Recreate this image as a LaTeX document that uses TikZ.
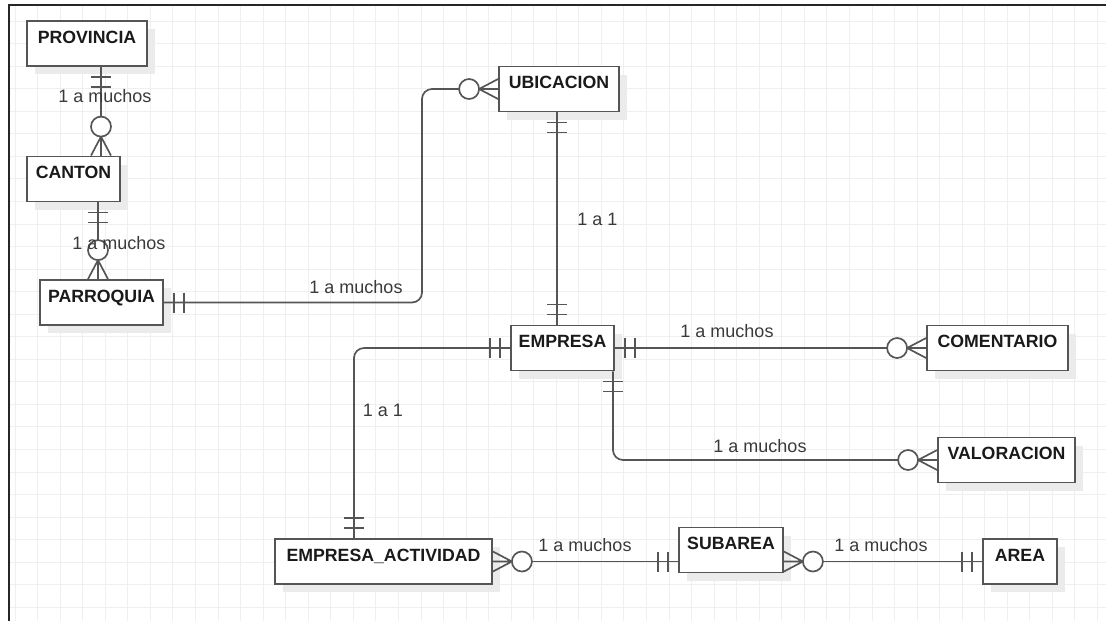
\documentclass[tikz,border=0pt]{standalone}
\usepackage{fontspec}
\setmainfont{Liberation Sans}
\usetikzlibrary{calc, shadows}

\begin{document}
\begin{tikzpicture}[x=0.025cm, y=-0.025cm, font=\fontsize{12.8}{15}\selectfont]
    % Define colors
    \definecolor{lineColour}{HTML}{555555}
    \definecolor{gridColour}{HTML}{EFEFEF}
    \definecolor{shadowColour}{HTML}{EBEBEB}
    \definecolor{textColour}{HTML}{1A1A1A}
    \definecolor{labelColour}{HTML}{3A3A3A}

    % Define pixel size and grid step
    \def\px{0.025cm}
    \def\gridStep{22.55}

    % Define styles and line ends
    \tikzset{
        entity/.style={draw=lineColour, fill=white, line width=1.3pt, text=textColour,
            font=\fontsize{12.6}{15}\selectfont\bfseries,
            minimum height=45*\px, text height=13*\px, text depth=14*\px, inner sep=0pt,
            drop shadow={shadow xshift=8*\px, shadow yshift=-8*\px, fill=shadowColour, opacity=1}},
        endMark/.style={draw=lineColour, line width=1.2pt},
        link/.style={endMark, rounded corners=10*\px},
        relLabel/.style={text=labelColour, anchor=base, inner sep=0pt},
        mandOne/.pic={\draw[endMark] (10,-10) -- (10,10) (20,-10) -- (20,10);},
        zeroMany/.pic={\draw[endMark] (0,-10) -- (19,0) -- (0,10) (0,0) -- (19,0);
            \filldraw[endMark, fill=white] (29,0) circle[radius=10];}
    }

    \useasboundingbox (0,0) rectangle (1106,621);

    % Draw grid
    \foreach \k in {0,...,48}
        \draw[gridColour, line width=0.6pt] (15.05+\k*\gridStep,5) -- (15.05+\k*\gridStep,621);
    \foreach \k in {0,...,26}
        \draw[gridColour, line width=0.6pt] (9,21+\k*\gridStep) -- (1106,21+\k*\gridStep);

    % Draw frame
    \draw[black!85, line width=1.5pt] (1106,5) -- (9,5) -- (9,621);

    % Draw entities
    \node[entity, minimum width=120*\px] (provincia) at (87,43.5) {PROVINCIA};
    \node[entity, minimum width=93*\px] (canton) at (73.5,179) {CANTON};
    \node[entity, minimum width=123*\px] (parroquia) at (101.5,302.5) {PARROQUIA};
    \node[entity, minimum width=120*\px] (ubicacion) at (559,89) {UBICACION};
    \node[entity, minimum width=103*\px] (empresa) at (562.5,348) {EMPRESA};
    \node[entity, minimum width=141*\px] (comentario) at (997.5,348) {COMENTARIO};
    \node[entity, minimum width=137*\px] (valoracion) at (1006.5,460) {VALORACION};
    \node[entity, minimum width=217*\px] (actividad) at (383.5,561.5) {EMPRESA\_ACTIVIDAD};
    \node[entity, minimum width=104*\px] (subarea) at (731,550) {SUBAREA};
    \node[entity, minimum width=74*\px] (area) at (1020,561.5) {AREA};

    % Define routing columns
    \coordinate (provCant) at (101,0);
    \coordinate (cantParr) at (98,0);
    \coordinate (parrBend) at (422,0);
    \coordinate (ubiEmp) at (557,0);
    \coordinate (empVal) at (613,0);
    \coordinate (empAct) at (354,0);

    % Draw relations
    \draw[link] (provincia.south -| provCant) -- (canton.north -| provCant);
    \draw[link] (canton.south -| cantParr) -- (parroquia.north -| cantParr);
    \draw[link] (parroquia.east) -- (parroquia.east -| parrBend) -- (ubicacion.west -| parrBend) -- (ubicacion.west);
    \draw[link] (ubicacion.south -| ubiEmp) -- (empresa.north -| ubiEmp);
    \draw[link] (empresa.east) -- (comentario.west);
    \draw[link] (empresa.south -| empVal) -- (valoracion.west -| empVal) -- (valoracion.west);
    \draw[link] (empresa.west) -- (empresa.west -| empAct) -- (actividad.north -| empAct);
    \draw[link] (actividad.east) -- (actividad.east -| subarea.west);
    \draw[link] (area.west -| subarea.east) -- (area.west);

    % Draw line ends
    \pic[rotate=-90] at (provincia.south -| provCant) {mandOne};
    \pic[rotate=90] at (canton.north -| provCant) {zeroMany};
    \pic[rotate=-90] at (canton.south -| cantParr) {mandOne};
    \pic[rotate=90] at (parroquia.north -| cantParr) {zeroMany};
    \pic at (parroquia.east) {mandOne};
    \pic[rotate=180] at (ubicacion.west) {zeroMany};
    \pic[rotate=-90] at (ubicacion.south -| ubiEmp) {mandOne};
    \pic[rotate=90] at (empresa.north -| ubiEmp) {mandOne};
    \pic at (empresa.east) {mandOne};
    \pic[rotate=180] at (comentario.west) {zeroMany};
    \pic[rotate=-90] at (empresa.south -| empVal) {mandOne};
    \pic[rotate=180] at (valoracion.west) {zeroMany};
    \pic[rotate=180] at (empresa.west) {mandOne};
    \pic[rotate=90] at (actividad.north -| empAct) {mandOne};
    \pic at (actividad.east) {zeroMany};
    \pic[rotate=180] at (actividad.east -| subarea.west) {mandOne};
    \pic at (area.west -| subarea.east) {zeroMany};
    \pic[rotate=180] at (area.west) {mandOne};

    % Label relations
    \node[relLabel] (lblProvCant) at (105,102) {1 a muchos};
    \node[relLabel] (lblCantParr) at (119,249) {1 a muchos};
    \node[relLabel] (lblParrUbi) at (356,293) {1 a muchos};
    \node[relLabel] (lblUbiEmp) at (597.5,225) {1 a 1};
    \node[relLabel] (lblEmpCom) at (727,337) {1 a muchos};
    \node[relLabel] (lblEmpVal) at (760,452) {1 a muchos};
    \node[relLabel] (lblEmpAct) at (383,416) {1 a 1};
    \node[relLabel] (lblActSub) at (585,551) {1 a muchos};
    \node[relLabel] (lblSubArea) at (881,551) {1 a muchos};

\end{tikzpicture}
\end{document}
